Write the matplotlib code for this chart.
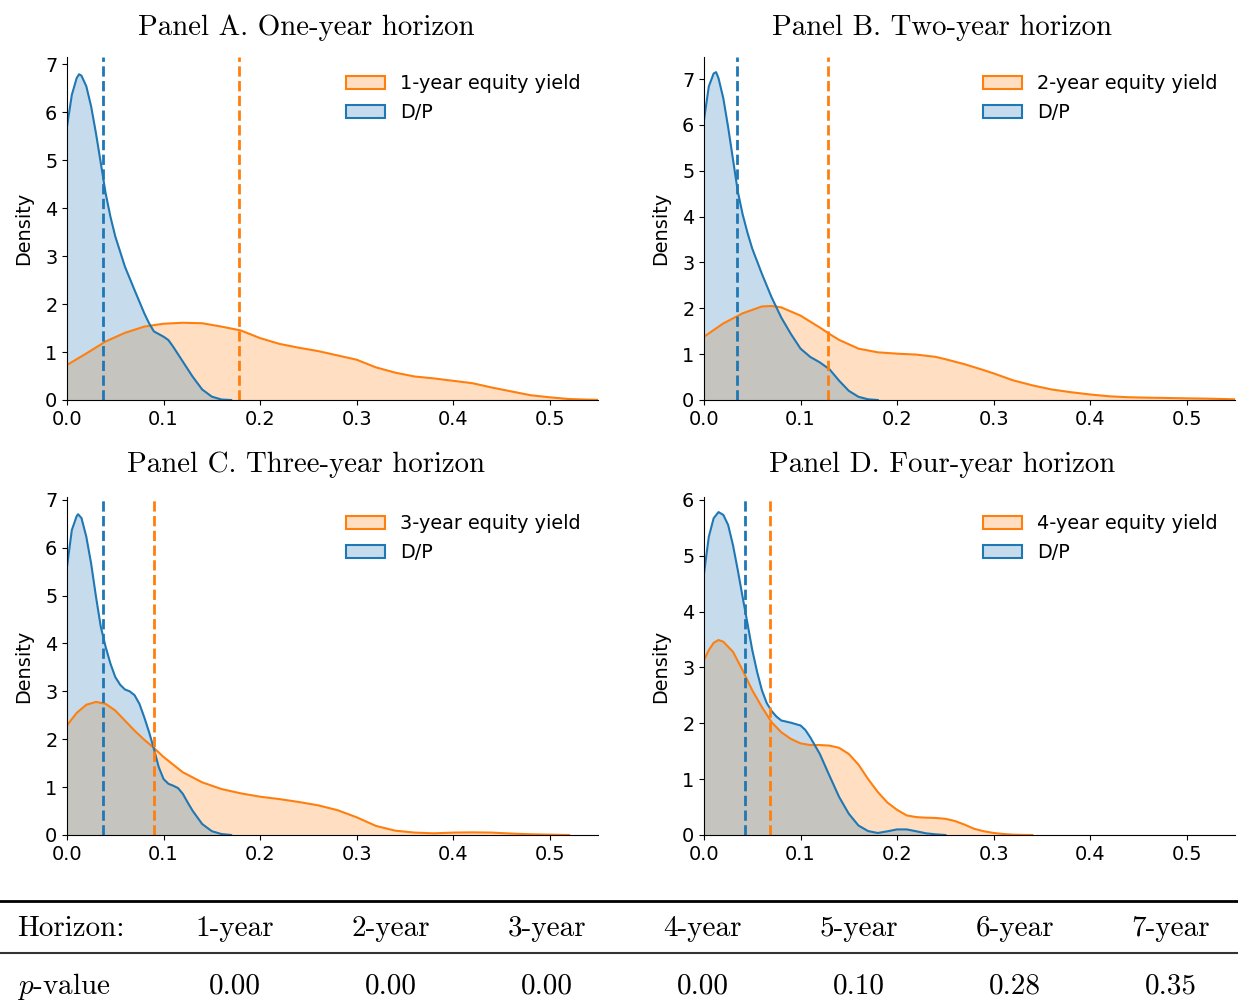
import numpy as np
import matplotlib
matplotlib.use('Agg')
import matplotlib.pyplot as plt
from matplotlib.patches import Patch
from matplotlib.lines import Line2D

plt.rcParams['font.family'] = 'DejaVu Sans'
plt.rcParams['mathtext.fontset'] = 'cm'
plt.rcParams['font.size'] = 13.9

BLUE = '#1f77b4'
ORANGE = '#ff7f0e'
CM = 'cmr10'

# densities (D/P vs. n-year equity yield)
A_dp_x = [0, .005, .01, .0125, .015, .02, .025, .03, .035, .04, .045, .05, .06, .07, .08, .085,
          .09, .1, .105, .11, .12, .13, .14, .15, .16, .17]
A_dp_y = [5.70, 6.36, 6.71, 6.79, 6.76, 6.54, 6.12, 5.56, 4.94, 4.31, 3.82, 3.41, 2.78, 2.29, 1.81, 1.60,
          1.43, 1.32, 1.25, 1.11, 0.80, 0.49, 0.22, 0.07, 0.01, 0.0]
A_ey_x = [0, .02, .04, .06, .08, .1, .12, .14, .16, .18, .2, .22, .24, .26, .28, .3, .32, .34, .36,
          .38, .4, .42, .44, .46, .48, .5, .52, .54, .55]
A_ey_y = [0.73, 0.97, 1.22, 1.40, 1.53, 1.59, 1.61, 1.60, 1.53, 1.45, 1.29, 1.17, 1.09, 1.02, 0.93, 0.84,
          0.68, 0.57, 0.49, 0.45, 0.40, 0.35, 0.26, 0.18, 0.10, 0.056, 0.02, 0.007, 0.003]

B_dp_x = [0, .005, .01, .0125, .015, .02, .025, .03, .035, .04, .045, .05, .06, .07, .08, .09, .1,
          .11, .12, .13, .14, .15, .16, .17, .18]
B_dp_y = [6.11, 6.84, 7.12, 7.15, 7.02, 6.58, 5.95, 5.25, 4.55, 4.05, 3.65, 3.30, 2.75, 2.24, 1.80, 1.44, 1.12,
          0.94, 0.82, 0.67, 0.42, 0.20, 0.07, 0.015, 0.0]
B_ey_x = [0, .02, .04, .06, .07, .08, .1, .12, .13, .14, .16, .18, .2, .22, .24, .25, .27, .29, .3,
          .32, .34, .36, .38, .4, .42, .44, .46, .48, .5, .52, .55]
B_ey_y = [1.38, 1.67, 1.89, 2.04, 2.05, 2.02, 1.84, 1.58, 1.44, 1.31, 1.12, 1.04, 1.01, 0.99, 0.94, 0.89,
          0.78, 0.65, 0.58, 0.43, 0.32, 0.23, 0.17, 0.12, 0.08, 0.06, 0.05, 0.044, 0.036, 0.03, 0.015]

C_dp_x = [0, .005, .01, .0115, .015, .02, .025, .03, .035, .04, .045, .05, .055, .06, .065, .07, .075,
          .08, .085, .09, .095, .1, .105, .11, .115, .12, .125, .13, .14, .15, .16, .17]
C_dp_y = [5.60, 6.37, 6.66, 6.70, 6.62, 6.23, 5.67, 4.98, 4.35, 3.93, 3.58, 3.30, 3.14, 3.04, 3.00, 2.92, 2.74,
          2.46, 2.15, 1.80, 1.42, 1.17, 1.07, 1.03, 0.98, 0.86, 0.68, 0.51, 0.23, 0.08, 0.02, 0.0]
C_ey_x = [0, .01, .02, .03, .04, .05, .06, .07, .08, .09, .1, .12, .14, .16, .18, .2, .22, .24, .26,
          .28, .3, .32, .34, .36, .38, .4, .42, .44, .46, .48, .5, .52]
C_ey_y = [2.29, 2.55, 2.72, 2.78, 2.74, 2.60, 2.39, 2.18, 1.99, 1.82, 1.63, 1.31, 1.10, 0.96, 0.87, 0.80,
          0.75, 0.69, 0.62, 0.52, 0.37, 0.19, 0.09, 0.05, 0.035, 0.05, 0.055, 0.05, 0.03, 0.015, 0.007, 0.0]

D_dp_x = [0, .005, .01, .015, .02, .025, .03, .035, .04, .045, .05, .055, .06, .065, .07, .075, .08,
          .09, .1, .105, .11, .12, .13, .14, .15, .16, .17, .18, .19, .2, .21, .22, .23, .24, .25]
D_dp_y = [4.68, 5.34, 5.67, 5.78, 5.73, 5.55, 5.19, 4.74, 4.26, 3.79, 3.31, 2.92, 2.59, 2.36, 2.22, 2.12, 2.05,
          2.01, 1.96, 1.88, 1.75, 1.45, 1.06, 0.68, 0.38, 0.17, 0.07, 0.036, 0.066, 0.10, 0.10, 0.066,
          0.03, 0.012, 0.0]
D_ey_x = [0, .005, .01, .015, .02, .03, .04, .05, .06, .07, .08, .09, .1, .11, .12, .13, .14, .15,
          .16, .17, .18, .19, .2, .21, .22, .23, .24, .25, .26, .27, .28, .29, .3, .31, .32, .33, .34]
D_ey_y = [3.13, 3.31, 3.44, 3.49, 3.46, 3.28, 2.95, 2.59, 2.29, 2.02, 1.84, 1.72, 1.64, 1.61, 1.61, 1.60,
          1.56, 1.45, 1.26, 1.00, 0.77, 0.58, 0.45, 0.35, 0.32, 0.31, 0.305, 0.29, 0.25, 0.185, 0.11,
          0.066, 0.036, 0.018, 0.006, 0.002, 0.0]

dp_means = [0.0373, 0.0342, 0.0373, 0.0424]
ey_means = [0.178, 0.128, 0.090, 0.0683]

titles = ['Panel A. One-year horizon', 'Panel B. Two-year horizon',
          'Panel C. Three-year horizon', 'Panel D. Four-year horizon']
ey_labels = ['1-year equity yield', '2-year equity yield', '3-year equity yield', '4-year equity yield']

horizons = ['1-year', '2-year', '3-year', '4-year', '5-year', '6-year', '7-year']
p_values = ['0.00', '0.00', '0.00', '0.00', '0.10', '0.28', '0.35']

panels = [(A_dp_x, A_dp_y, A_ey_x, A_ey_y), (B_dp_x, B_dp_y, B_ey_x, B_ey_y),
          (C_dp_x, C_dp_y, C_ey_x, C_ey_y), (D_dp_x, D_dp_y, D_ey_x, D_ey_y)]

W, H = 1238, 1007
fig = plt.figure(figsize=(W / 100, H / 100), dpi=100)

# axes boxes in pixels: left, top, right, bottom
boxes = [(67, 57, 598, 400), (704, 57, 1235, 400), (67, 497, 598, 835), (704, 497, 1235, 835)]
ytops = [7.15, 7.48, 7.06, 6.05]
title_pos = [(306, 35), (942, 35), (306, 472), (942, 472)]

for i, (dx, dy, ex, ey) in enumerate(panels):
    l, t, r, b = boxes[i]
    ax = fig.add_axes([l / W, 1 - b / H, (r - l) / W, (b - t) / H])
    ax.fill_between(ex, ey, 0, color=ORANGE, alpha=0.25, lw=0)
    ax.plot(ex, ey, color=ORANGE, lw=1.5)
    ax.fill_between(dx, dy, 0, color=BLUE, alpha=0.25, lw=0)
    ax.plot(dx, dy, color=BLUE, lw=1.5)
    ax.axvline(dp_means[i], color=BLUE, ls='--', lw=2)
    ax.axvline(ey_means[i], color=ORANGE, ls='--', lw=2)
    ax.set_xlim(0, 0.55)
    ax.set_ylim(0, ytops[i])
    ax.set_xticks([0, 0.1, 0.2, 0.3, 0.4, 0.5])
    ax.set_ylabel('Density', labelpad=8.5)
    ax.spines['top'].set_visible(False)
    ax.spines['right'].set_visible(False)
    handles = [Patch(facecolor=(1.0, 0.498, 0.055, 0.25), edgecolor=ORANGE, lw=1.5),
               Patch(facecolor=(0.122, 0.467, 0.706, 0.25), edgecolor=BLUE, lw=1.5)]
    ax.legend(handles, [ey_labels[i], 'D/P'], loc='upper right', frameon=False)
    tx, ty = title_pos[i]
    fig.text(tx / W, 1 - ty / H, titles[i], family=CM, fontsize=20.8, ha='center', va='baseline')

# p-value table under the panels
fig.add_artist(Line2D([0, 1], [1 - 901 / H] * 2, transform=fig.transFigure, color='black', lw=2))
fig.add_artist(Line2D([0, 1], [1 - 952.5 / H] * 2, transform=fig.transFigure, color='#333333', lw=1.5))
fig.text(17 / W, 1 - 936 / H, 'Horizon:', family=CM, fontsize=21, ha='left', va='baseline')
fig.text(17 / W, 1 - 994 / H, '$p$-value', family=CM, fontsize=21, ha='left', va='baseline')
for j, (h, p) in enumerate(zip(horizons, p_values)):
    cx = (235 + 156 * j) / W
    fig.text(cx, 1 - 936 / H, h, family=CM, fontsize=21, ha='center', va='baseline')
    fig.text(cx, 1 - 994 / H, p, family=CM, fontsize=21, ha='center', va='baseline')

fig.savefig('out.png', dpi=100)
